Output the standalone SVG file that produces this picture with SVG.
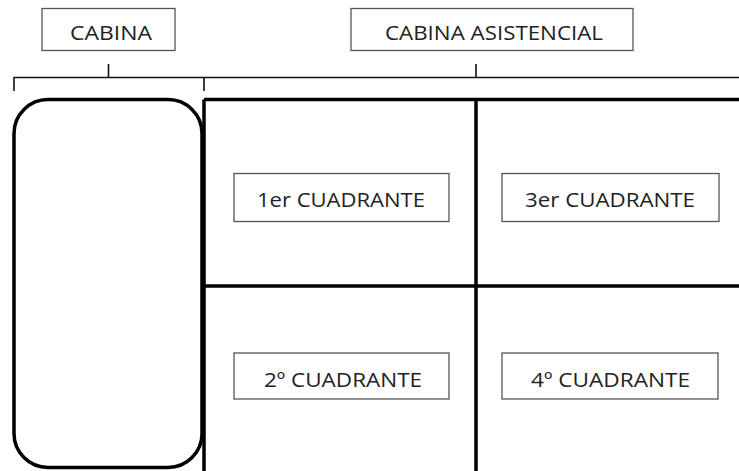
<svg xmlns="http://www.w3.org/2000/svg" width="739" height="471" viewBox="0 0 739 471">
<style>
.lbl{fill:#fff;stroke:#555;stroke-width:1.3}
.t{font-family:"Open Sans","Liberation Sans",sans-serif;font-size:20px;fill:#222}
.br{fill:none;stroke:#111;stroke-width:1.6}
.wall{fill:none;stroke:#000;stroke-width:3.5}
</style>
<rect width="739" height="471" fill="#fff"/>
<g id="cabina-label"><rect class="lbl" x="42" y="8.5" width="133" height="42"/><text class="t" x="70" y="40" textLength="82" lengthAdjust="spacingAndGlyphs">CABINA</text></g>
<g id="asistencial-label"><rect class="lbl" x="351" y="8.5" width="282" height="42"/><text class="t" x="385" y="40" textLength="218" lengthAdjust="spacingAndGlyphs">CABINA ASISTENCIAL</text></g>
<g id="connectors">
<path class="br" d="M14 91 V77.5 H204 M108.5 77.5 V64 M204 91 V77.5 H739 M476 77.5 V64"/>
</g>
<g id="cabina"><rect class="wall" x="14" y="99.5" width="188" height="368" rx="34"/></g>
<g id="grid">
<path class="wall" d="M204 99.5 H739 M204 99.5 V471 M476 99.5 V471 M204 286 H739"/>
</g>
<g id="q1"><rect class="lbl" x="234" y="173.5" width="215" height="48"/><text class="t" x="257" y="206.5" textLength="168" lengthAdjust="spacingAndGlyphs">1er CUADRANTE</text></g>
<g id="q3"><rect class="lbl" x="502" y="173.5" width="217" height="48"/><text class="t" x="525" y="206.5" textLength="170" lengthAdjust="spacingAndGlyphs">3er CUADRANTE</text></g>
<g id="q2"><rect class="lbl" x="234" y="353" width="215" height="46"/><text class="t" x="264" y="386.5" textLength="158" lengthAdjust="spacingAndGlyphs">2º CUADRANTE</text></g>
<g id="q4"><rect class="lbl" x="502" y="353" width="216" height="46"/><text class="t" x="531" y="386.5" textLength="159" lengthAdjust="spacingAndGlyphs">4º CUADRANTE</text></g>
</svg>
